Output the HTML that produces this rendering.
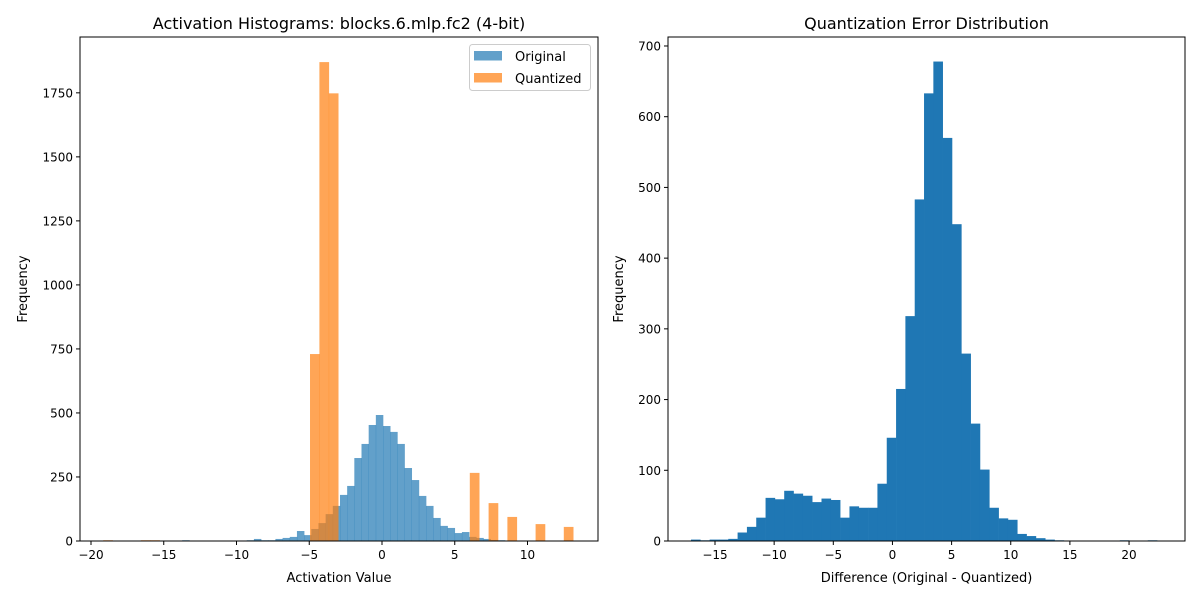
<!DOCTYPE html>
<html><head><meta charset="utf-8"><style>
body{margin:0;background:#fff}
svg text{font-family:"DejaVu Sans","Liberation Sans",sans-serif;fill:#000}
</style></head><body>
<svg id="c" width="1200" height="600" xmlns="http://www.w3.org/2000/svg"></svg>
<script>
// Left chart data
const origStart = -19.65, origWidth = 0.493;
const origCounts = [0,0,0,0,0,0,0,0,0,0,0,0,3,0,0,0,0,0,0,0,2,3,8,3,3,8,12,16,39,23,47,70,105,137,180,215,324,379,453,492,449,426,379,285,238,176,137,90,59,51,31,35,16,12,8,4,3,2,2,2,1,1,1,1];
const quantStart = -19.16, quantWidth = 0.646;
const quantCounts = [3,0,0,0,3,3,0,0,0,0,0,0,0,0,0,0,0,0,0,0,0,0,730,1870,1748,0,0,0,0,0,0,0,0,0,0,0,0,0,0,266,0,148,0,94,0,0,66,0,0,55];
const leftXTicks = [-20,-15,-10,-5,0,5,10];
const leftYTicks = [0,250,500,750,1000,1250,1500,1750];
// Right chart data
const errStart = -17.03, errWidth = 0.788;
const errCounts = [2,1,2,2,3,12,20,33,61,59,71,67,64,55,60,58,33,49,47,47,81,146,215,318,483,633,678,570,448,265,166,101,47,32,30,10,7,4,2,1,0,0,0,0,0,0,1,0,0,1];
const rightXTicks = [-15,-10,-5,0,5,10,15,20];
const rightYTicks = [0,100,200,300,400,500,600,700];

const svg = document.getElementById('c');
const NS = 'http://www.w3.org/2000/svg';
function mk(tag, attrs, parent){const e=document.createElementNS(NS,tag);for(const k in attrs)e.setAttribute(k,attrs[k]);(parent||svg).appendChild(e);return e;}

function panel(o){
  const g = mk('g',{});
  
  
  const sx = v => o.x0 + (v - o.xmin) / (o.xmax - o.xmin) * (o.x1 - o.x0);
  const sy = v => o.y1 - v / o.ymax * (o.y1 - o.y0);
  o.series.forEach(s => {
    s.counts.forEach((c, i) => {
      if (!c) return;
      const a = sx(s.start + i * s.width), b = sx(s.start + (i + 1) * s.width);
      const r = mk('rect',{x:a,y:sy(c),width:b-a+0.3,height:o.y1-sy(c),fill:s.color,'fill-opacity':s.alpha},g);
      
      
    });
  });
  mk('rect',{x:o.x0,y:o.y0,width:o.x1-o.x0,height:o.y1-o.y0,fill:'none',stroke:'#000','stroke-width':1},g);
  o.xticks.forEach(t => {
    const x = sx(t);
    mk('line',{x1:x,x2:x,y1:o.y1,y2:o.y1+4,stroke:'#000'},g);
    const tx = mk('text',{x:x,y:o.y1+18,'font-size':12,'text-anchor':'middle'},g);
    tx.textContent = t < 0 ? '\u2212' + (-t) : t;
    
    
  });
  o.yticks.forEach(t => {
    const y = sy(t);
    mk('line',{x1:o.x0-4,x2:o.x0,y1:y,y2:y,stroke:'#000'},g);
    const tx = mk('text',{x:o.x0-7,y:y+4.5,'font-size':12,'text-anchor':'end'},g);
    tx.textContent = t;
    
    
  });
  const ti = mk('text',{x:(o.x0+o.x1)/2,y:29,'font-size':16,'text-anchor':'middle'},g);
  ti.textContent = o.title;
  
  
  const xl = mk('text',{x:(o.x0+o.x1)/2,y:582,'font-size':13,'text-anchor':'middle'},g);
  xl.textContent = o.xlabel;
  
  
  const yx = o.ylabelX, yy = (o.y0+o.y1)/2;
  const yl = mk('text',{x:yx,y:yy,'font-size':13,'text-anchor':'middle',transform:`rotate(-90 ${yx} ${yy})`},g);
  yl.textContent = 'Frequency';
  
  
}

panel({name:'activation-histogram-chart',x0:80,x1:598,y0:37,y1:541,xmin:-20.756,xmax:14.845,ymax:1968,
  series:[{counts:origCounts,start:origStart,width:origWidth,color:'#1f77b4',alpha:0.7,barName:'original-bar'},
          {counts:quantCounts,start:quantStart,width:quantWidth,color:'#ff7f0e',alpha:0.7,barName:'quantized-bar'}],
  xticks:leftXTicks,yticks:leftYTicks,title:'Activation Histograms: blocks.6.mlp.fc2 (4-bit)',xlabel:'Activation Value',ylabelX:27});
panel({name:'quantization-error-chart',x0:668,x1:1185,y0:37,y1:541,xmin:-18.973,xmax:24.73,ymax:712.7,
  series:[{counts:errCounts,start:errStart,width:errWidth,color:'#1f77b4',alpha:1,barName:'error-bar'}],
  xticks:rightXTicks,yticks:rightYTicks,title:'Quantization Error Distribution',xlabel:'Difference (Original - Quantized)',ylabelX:623});

// legend
const lg = mk('g',{});


mk('rect',{x:469.5,y:44.5,width:121,height:46,rx:3,fill:'#fff','fill-opacity':0.8,stroke:'#ccc'},lg);
[['Original','#1f77b4',51],['Quantized','#ff7f0e',73]].forEach(([t,c,y])=>{
  const e = mk('g',{},lg);
  
  
  mk('rect',{x:474,y:y,width:28,height:9.5,fill:c,'fill-opacity':0.7},e);
  const tx = mk('text',{x:515,y:y+10,'font-size':13},e);
  tx.textContent = t;
});
</script>
</body></html>
